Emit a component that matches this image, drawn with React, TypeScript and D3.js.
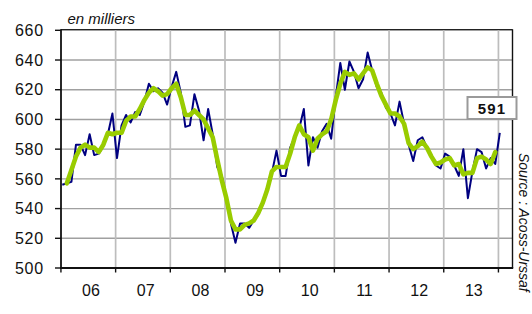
import React from "react";
import * as d3 from "d3";

// Monthly values, Jan 2006 (index 0) to Jan 2014 (index 96), in thousands
const rawSeries: number[] = [
  556, 557, 558, 583, 583, 576, 590, 576, 577, 582, 590, 604,
  574, 596, 603, 598, 605, 603, 612, 624, 619, 621, 618, 610,
  622, 632, 618, 595, 596, 617, 606, 586, 607, 590, 568, 562,
  548, 530, 517, 530, 530, 527, 532, 536, 543, 552, 564, 579,
  562, 562, 581, 588, 594, 607, 569, 588, 581, 592, 597, 587,
  615, 638, 620, 639, 632, 621, 627, 645, 633, 622, 618, 608,
  604, 596, 612, 597, 583, 572, 586, 588, 581, 575, 569, 567,
  577, 575, 569, 562, 580, 547, 565, 580, 578, 567, 574, 570,
  591,
];

// Smoothed series, Feb 2006 (index 1) to Dec 2013 (index 95)
const trendStart = 1;
const trendSeries: number[] = [
  557, 566, 575, 581, 583, 581, 581, 578, 583, 591, 590,
  591, 591, 599, 602, 602, 607, 613, 618, 621, 619, 616, 617,
  621, 624, 615, 603, 603, 606, 603, 600, 594, 588, 573, 559,
  547, 532, 526, 526, 529, 530, 532, 537, 544, 553, 565, 568,
  568, 568, 577, 588, 596, 590, 588, 579, 587, 590, 592, 600,
  613, 624, 632, 630, 631, 627, 631, 635, 633, 624, 616, 610,
  604, 604, 602, 597, 584, 580, 582, 585, 581, 575, 570, 571,
  573, 574, 569, 570, 563, 564, 564, 574, 575, 573, 570, 578,
];

const yTicks: number[] = [500, 520, 540, 560, 580, 600, 620, 640, 660];
const yearLabels: string[] = ["06", "07", "08", "09", "10", "11", "12", "13"];
const lastValueLabel = "591";
const unitLabel = "en milliers";
const sourceLabel = "Source : Acoss-Urssaf";

export default function App() {
  React.useEffect(() => {
    document.body.style.margin = "0";
  }, []);

  const W = 532;
  const H = 314;
  const left = 61;
  const right = 512.5;
  const top = 30.3;
  const bottom = 268;

  const x = d3.scaleLinear().domain([0, 96]).range([62.3, 499.8]);
  const y = d3.scaleLinear().domain([500, 660]).range([bottom, top]);

  const rawLine = d3
    .line<number>()
    .x((_, i) => x(i))
    .y((d) => y(d));
  const trendLine = d3
    .line<number>()
    .x((_, i) => x(i + trendStart))
    .y((d) => y(d));

  const yearBounds = d3.range(0, yearLabels.length + 1).map((k) => x(12 * k - 0.3));
  const font = "Arial, 'Liberation Sans', sans-serif";

  return (
    <svg
      width={W}
      height={H}
      viewBox={`0 0 ${W} ${H}`}
      style={{ position: "absolute", left: 0, top: 0, background: "#fff" }}
      fontFamily={font}
    >
      <rect x={0} y={0} width={W} height={H} fill="#fff" />
      {/* horizontal gridlines */}
      {yTicks.map((t) => (
        <line key={"h" + t} x1={left} x2={right} y1={y(t)} y2={y(t)} stroke="#a0a0a0" strokeWidth={1.4} />
      ))}
      {/* vertical gridlines */}
      {yearBounds.slice(1).map((bx, k) => (
        <line key={"v" + k} x1={bx} x2={bx} y1={top} y2={bottom} stroke="#bdbdbd" strokeWidth={1.7} />
      ))}
      {/* frame */}
      <line x1={left} x2={right} y1={top - 0.8} y2={top - 0.8} stroke="#222" strokeWidth={1} />
      <line x1={right} x2={right} y1={top - 1} y2={bottom} stroke="#111" strokeWidth={1.4} />
      <line x1={left} x2={left} y1={top - 1} y2={bottom + 1} stroke="#111" strokeWidth={1.8} />
      <line x1={left - 1} x2={right + 0.7} y1={bottom} y2={bottom} stroke="#111" strokeWidth={1.8} />
      {/* y ticks & labels */}
      {yTicks.map((t) => (
        <g key={"yt" + t}>
          <line x1={left - 6} x2={left} y1={y(t)} y2={y(t)} stroke="#111" strokeWidth={1.4} />
          <text
            x={44}
            y={y(t)}
            dy="0.36em"
            textAnchor="end"
            fontSize={16}
            letterSpacing={0.8}
            fill="#111"
          >
            {t}
          </text>
        </g>
      ))}
      {/* x ticks */}
      {yearBounds.map((bx, k) => (
        <line key={"xt" + k} x1={bx} x2={bx} y1={bottom} y2={bottom + 4.5} stroke="#111" strokeWidth={1.4} />
      ))}
      {yearLabels.map((lab, k) => (
        <text key={"xl" + lab} x={x(12 * k + 6.3)} y={296} textAnchor="middle" fontSize={16} fill="#111">
          {lab}
        </text>
      ))}
      {/* series */}
      <path d={rawLine(rawSeries) || ""} fill="none" stroke="#000080" strokeWidth={2} strokeLinejoin="round" />
      <path
        d={trendLine(trendSeries) || ""}
        fill="none"
        stroke="#99cc00"
        strokeWidth={4.6}
        strokeLinejoin="round"
        strokeLinecap="round"
      />
      {/* last value label */}
      <rect x={467.5} y={97} width={49} height={22} fill="#fff" stroke="#9a9a9a" strokeWidth={2} />
      <text x={492} y={113.5} textAnchor="middle" fontSize={15} fontWeight="bold" letterSpacing={1.2} fill="#111">
        {lastValueLabel}
      </text>
      {/* unit */}
      <text x={67.5} y={24} fontSize={15} fontStyle="italic" fill="#111">
        {unitLabel}
      </text>
      {/* source */}
      <text
        transform="translate(518.5,153) rotate(90)"
        fontSize={14}
        fontStyle="italic"
        fill="#111"
      >
        {sourceLabel}
      </text>
    </svg>
  );
}
